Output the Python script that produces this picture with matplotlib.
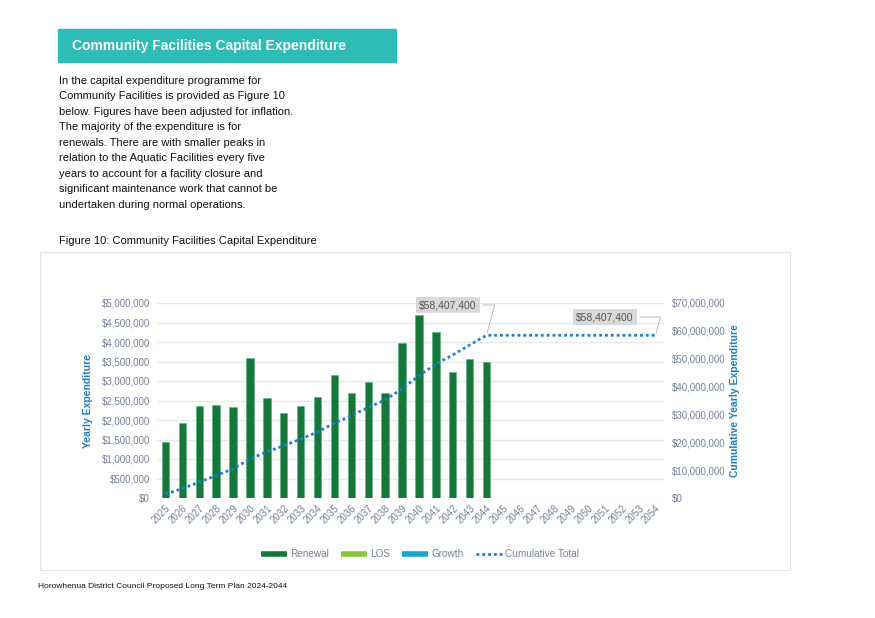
import numpy as np
import matplotlib
matplotlib.use("Agg")
from matplotlib import pyplot as plt
from matplotlib.lines import Line2D
from matplotlib.patches import Rectangle
from matplotlib.ticker import FuncFormatter

plt.rcParams['font.family'] = ['Liberation Sans', 'DejaVu Sans']

years = [str(y) for y in range(2025, 2055)]
renewal = [1440000, 1915000, 2360000, 2395000, 2325000, 3585000, 2560000,
           2190000, 2350000, 2585000, 3165000, 2685000, 2970000, 2685000,
           3970000, 4690000, 4245000, 3240000, 3560000, 3492400]
renewal = renewal + [0] * (len(years) - len(renewal))
left_ticks = [0, 500000, 1000000, 1500000, 2000000, 2500000, 3000000,
              3500000, 4000000, 4500000, 5000000]
right_ticks = [0, 10000000, 20000000, 30000000, 40000000, 50000000,
               60000000, 70000000]

intro = ("In the capital expenditure programme for\n"
         "Community Facilities is provided as Figure 10\n"
         "below. Figures have been adjusted for inflation.\n"
         "The majority of the expenditure is for\n"
         "renewals. There are with smaller peaks in\n"
         "relation to the Aquatic Facilities every five\n"
         "years to account for a facility closure and\n"
         "significant maintenance work that cannot be\n"
         "undertaken during normal operations.")

W, H = 875, 618
fig = plt.figure(figsize=(W / 100, H / 100), dpi=100)
fig.patch.set_facecolor('white')


def fx(px):
    return px / W


def fy(py):
    return 1 - py / H


# header band
fig.patches.append(Rectangle((fx(58), fy(62)), fx(396) - fx(58), fy(29) - fy(62),
                             transform=fig.transFigure, color='#2dbdb6', zorder=0))
fig.text(fx(72), fy(46), "Community Facilities Capital Expenditure", color='white',
         fontsize=10, fontweight='bold', va='center', ha='left')
fig.text(fx(59), fy(76), intro, fontsize=8, va='top', ha='left', color='#111111',
         linespacing=1.68)
fig.text(fx(59), fy(241), "Figure 10: Community Facilities Capital Expenditure",
         fontsize=8, va='center', ha='left', color='#111111')
fig.text(fx(38), fy(587), "Horowhenua District Council Proposed Long Term Plan 2024-2044",
         fontsize=6, va='center', ha='left', color='#111111')

# chart frame
fig.patches.append(Rectangle((fx(40), fy(570)), fx(790) - fx(40), fy(252) - fy(570),
                             transform=fig.transFigure, fill=False,
                             edgecolor='#e3e3e3', linewidth=0.8, zorder=0))

ax = fig.add_axes([fx(157), fy(498), fx(664) - fx(157), fy(303) - fy(498)])
x = np.arange(len(years))
ax.bar(x, renewal, width=0.44, color='#15773a', edgecolor='#4fb37a', linewidth=0.4,
       zorder=3)
ax.set_xlim(-0.5, len(years) - 0.5)
ax.set_ylim(0, 5000000)
ax.set_yticks(left_ticks)
ax.yaxis.set_major_formatter(FuncFormatter(lambda v, p: '${:,.0f}'.format(v)))
ax.grid(axis='y', color='#e6e9ee', linewidth=1, zorder=0)
ax.set_xticks(x)
ax.set_xticklabels(years, rotation=45, ha='right', rotation_mode='anchor')
ax.tick_params(axis='both', length=0, labelsize=7, colors='#75819a')
ax.tick_params(axis='y', pad=5)
for s in ax.spines.values():
    s.set_visible(False)
ax.set_ylabel("Yearly Expenditure", color='#1b7fc4', fontsize=7.5,
              fontweight='bold', labelpad=6)

ax2 = ax.twinx()
cumulative = np.cumsum(renewal)
ax2.plot(x, cumulative, linestyle=(0, (1, 1.1)), color='#1a7fd4', linewidth=2,
         zorder=4)
ax2.set_ylim(0, 70000000)
ax2.set_yticks(right_ticks)
ax2.yaxis.set_major_formatter(FuncFormatter(lambda v, p: '${:,.0f}'.format(v)))
ax2.tick_params(axis='y', length=0, labelsize=7, colors='#75819a', pad=6)
for s in ax2.spines.values():
    s.set_visible(False)
ax2.set_ylabel("Cumulative Yearly Expenditure", color='#1b7fc4', fontsize=7.5,
               fontweight='bold', labelpad=3)

# callouts
total = cumulative[-1]
label = '${:,.0f}'.format(total)
box = dict(boxstyle='square,pad=0.3', facecolor='#d9d9d9', edgecolor='none')
arrow = dict(arrowstyle='-', color='#a8b0bc', linewidth=0.6,
             connectionstyle='angle,angleA=0,angleB=75,rad=0')
i44 = years.index('2044')
ax2.annotate(label, xy=(x[i44], cumulative[i44]), xytext=(448, H - 305),
             textcoords='figure pixels', fontsize=7.5, color='#555555',
             ha='center', va='center', bbox=box, arrowprops=arrow)
ax2.annotate(label, xy=(x[-1], cumulative[-1]), xytext=(605, H - 317),
             textcoords='figure pixels', fontsize=7.5, color='#555555',
             ha='center', va='center', bbox=box, arrowprops=arrow)

handles = [
    Line2D([], [], color='#15773a', linewidth=4, solid_capstyle='butt'),
    Line2D([], [], color='#8cc63f', linewidth=4, solid_capstyle='butt'),
    Line2D([], [], color='#18a6c9', linewidth=4, solid_capstyle='butt'),
    Line2D([], [], color='#1a7fd4', linewidth=2, linestyle=(0, (1, 1.1))),
]
leg = fig.legend(handles, ['Renewal', 'LOS', 'Growth', 'Cumulative Total'],
                 loc='center', bbox_to_anchor=(fx(420), fy(554)), ncol=4,
                 frameon=False, fontsize=7.2, handlelength=2.6, columnspacing=1.2,
                 handletextpad=0.3)
for t in leg.get_texts():
    t.set_color('#75819a')

fig.savefig('out.png', dpi=100)
